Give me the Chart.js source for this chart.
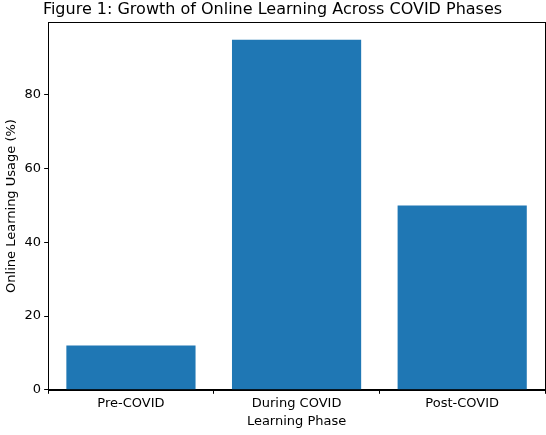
<!DOCTYPE html>
<html><head><meta charset="utf-8">
<script src="https://cdn.jsdelivr.net/npm/chart.js@4"></script>
<style>body{margin:0;background:#fff}</style>
</head><body>
<canvas id="c" width="546" height="435"></canvas>
<script>
const categories = ["Pre-COVID", "During COVID", "Post-COVID"];
const usage = [12, 95, 50];
const yTicks = [0, 20, 40, 60, 80];

const frame = {
  id: 'frame',
  afterDraw(chart) {
    const a = chart.chartArea, ctx = chart.ctx;
    ctx.save(); ctx.strokeStyle = '#000'; ctx.lineWidth = 1;
    ctx.strokeRect(Math.round(a.left) + 0.5, Math.round(a.top) + 0.5, Math.round(a.right - a.left), Math.round(a.bottom - a.top));
    ctx.restore();
  }
};
Chart.defaults.font.family = "DejaVu Sans";
Chart.defaults.color = '#000';
new Chart(document.getElementById('c'), {
  type: 'bar',
  data: { labels: categories, datasets: [{ data: usage, backgroundColor: '#1f77b4', categoryPercentage: 0.78, barPercentage: 1 }] },
  options: {
    responsive: false, animation: false,
    layout: { padding: { top: 0, right: 1, left: 0, bottom: 2 } },
    plugins: {
      legend: { display: false },
      title: { display: true, text: 'Figure 1: Growth of Online Learning Across COVID Phases', font: { size: 16, weight: 'normal' }, padding: { top: 0, bottom: 3 } }
    },
    scales: {
      x: {
        grid: { display: true, drawOnChartArea: false, tickLength: 4, color: '#000' },
        border: { color: '#000' },
        ticks: { font: { size: 13 }, padding: 2 },
        title: { display: true, text: 'Learning Phase', font: { size: 13 }, padding: { top: 0 } }
      },
      y: {
        min: 0, max: 99.75,
        afterBuildTicks: s => { s.ticks = yTicks.map(v => ({ value: v })); },
        grid: { display: true, drawOnChartArea: false, tickLength: 4, color: '#000' },
        border: { color: '#000' },
        ticks: { font: { size: 13 }, padding: 3 },
        title: { display: true, text: 'Online Learning Usage (%)', font: { size: 13 }, padding: { bottom: 2 } }
      }
    }
  },
  plugins: [frame]
});
</script>
</body></html>
